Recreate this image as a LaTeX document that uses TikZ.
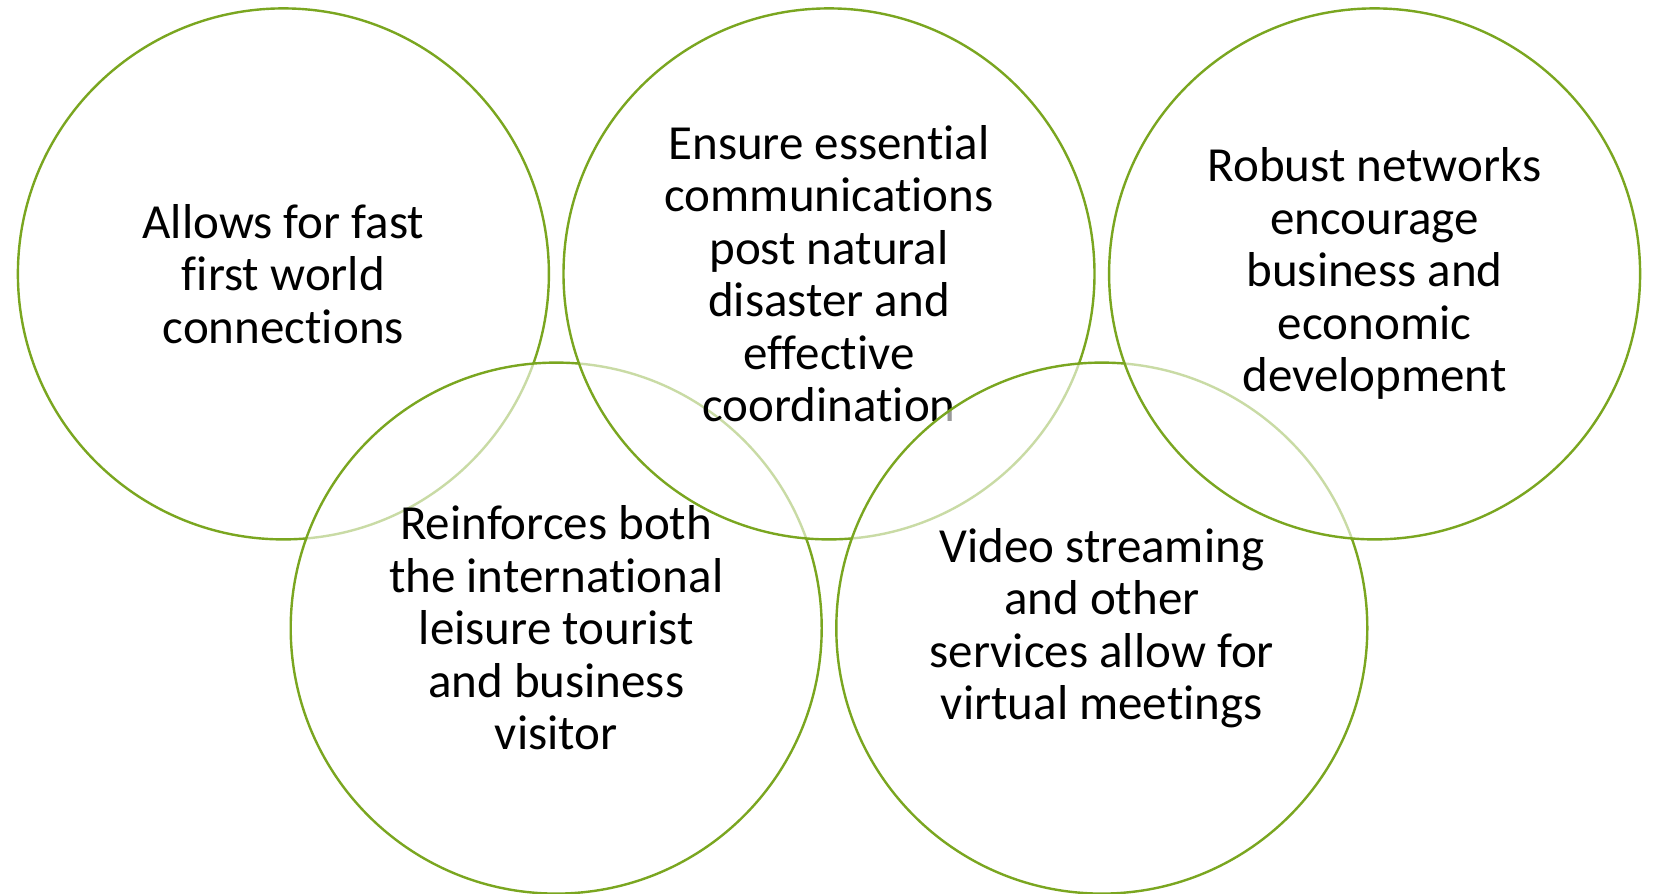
\documentclass[tikz,border=0pt]{standalone}
\usepackage{fontspec}
\setmainfont{Carlito}[Ligatures=NoCommon]
\definecolor{ringgreen}{RGB}{122,166,32}
\tikzset{
  ring/.style={circle, draw=ringgreen, line width=2.4pt, fill=white, fill opacity=0.6,
    text opacity=1, draw opacity=1, minimum size=531pt, inner sep=0pt, align=center,
    font=\fontsize{49pt}{52.5pt}\selectfont, text=black}
}
\begin{document}
\begin{tikzpicture}[x=1pt,y=-1pt]
\useasboundingbox[fill=white] (0,0) rectangle (1658,894);
\node[ring] (c1) at (283.4,273.9) {Allows for fast\\first world\\connections};
\node[ring] (c4) at (556.2,628.1) {Reinforces both\\the international\\leisure tourist\\and business\\visitor};
\node[ring] (c2) at (829,273.9) {Ensure essential\\communications\\post natural\\disaster and\\effective\\coordination};
\node[ring] (c5) at (1101.8,628.1) {Video streaming\\and other\\services allow for\\virtual meetings};
\node[ring] (c3) at (1374.6,273.9) {Robust networks\\encourage\\business and\\economic\\development};
\end{tikzpicture}
\end{document}
